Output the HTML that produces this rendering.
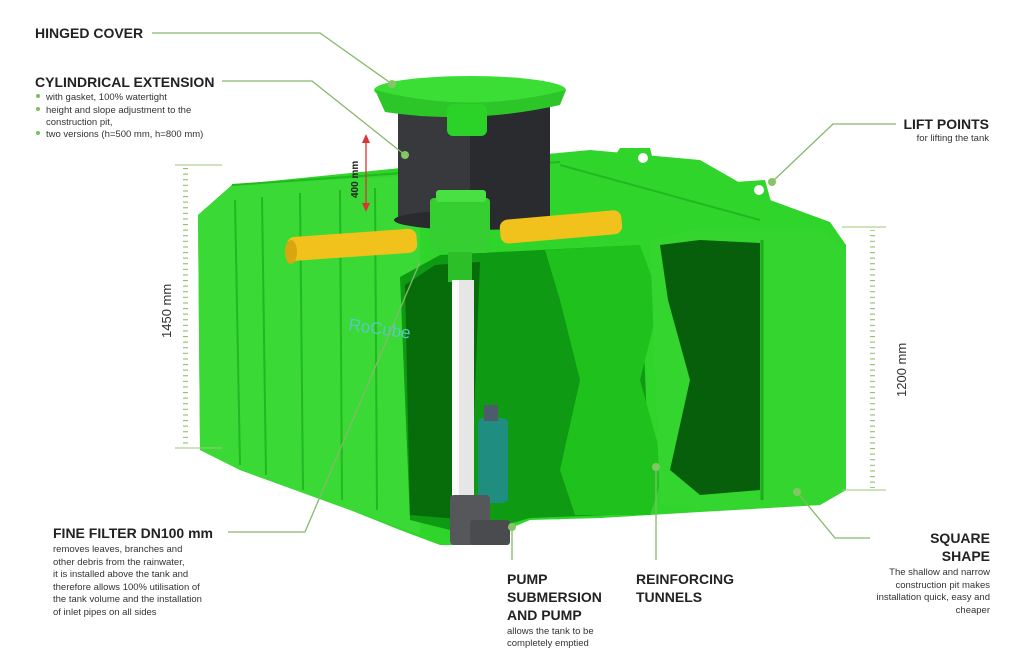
<!DOCTYPE html>
<html><head><meta charset="utf-8"><style>
html,body{margin:0;padding:0;background:#fff;}
svg{display:block}
text{font-family:"Liberation Sans",sans-serif;}
</style></head><body>
<svg width="1024" height="657" viewBox="0 0 1024 657" xmlns="http://www.w3.org/2000/svg">
<defs>
<pattern id="tk" width="4" height="5.6" patternUnits="userSpaceOnUse"><rect x="0" y="0" width="5" height="1.1" fill="#8fbf6c"/></pattern>
</defs>
<!-- main tank body -->
<polygon points="198,215 232,185 430,165 590,150 700,160 770,200 830,222 846,245 846,490 820,505 700,512 600,518 530,520 470,545 440,545 400,530 350,510 240,470 200,450" fill="#2fd52a"/>
<!-- left face lighter -->
<polygon points="198,215 232,185 420,175 420,535 350,510 240,470 200,450" fill="#3ad936"/>
<!-- ribs left -->
<g stroke="#22b820" stroke-width="2" fill="none">
<line x1="235" y1="200" x2="240" y2="465"/><line x1="262" y1="197" x2="266" y2="475"/>
<line x1="300" y1="193" x2="303" y2="490"/><line x1="340" y1="190" x2="342" y2="500"/>
<line x1="375" y1="188" x2="377" y2="510"/>
<line x1="232" y1="185" x2="560" y2="162"/><line x1="560" y1="165" x2="760" y2="220"/>
<line x1="770" y1="230" x2="770" y2="500"/>
</g>
<!-- lift point tabs -->
<path d="M612,160 L620,148 L650,148 L656,172 Z" fill="#2fd52a"/><circle cx="643" cy="158" r="5" fill="#fff"/>
<path d="M725,195 L735,182 L765,180 L772,205 Z" fill="#2fd52a"/><circle cx="759" cy="190" r="5" fill="#fff"/>
<!-- interior cutaway -->
<polygon points="400,277 440,255 640,245 650,500 610,515 530,518 470,535 410,520" fill="#0e9a12"/>
<polygon points="405,285 435,265 480,262 470,520 410,515" fill="#066d0a"/>
<!-- central reinforcing column -->
<path d="M545,250 L640,245 L660,300 L640,380 L665,470 L650,515 L575,515 L560,470 L580,380 L560,300 Z" fill="#1fc21d"/>
<!-- right block -->
<polygon points="650,240 700,228 820,228 846,250 846,490 820,505 760,508 700,510 660,505" fill="#33d52e"/>
<path d="M660,245 L700,240 L760,243 L760,490 L700,495 L670,470 L690,380 L668,300 Z" fill="#075e0b"/>
<line x1="762" y1="240" x2="762" y2="500" stroke="#1eaa1c" stroke-width="3"/>
<!-- RoCube text -->
<text x="348" y="330" font-size="17" fill="#5ac8c0" transform="rotate(8 348 330)">RoCube</text>
<!-- cylinder extension -->
<rect x="398" y="100" width="152" height="120" fill="#38393c"/>
<rect x="470" y="100" width="80" height="120" fill="#2a2b2e"/>
<ellipse cx="474" cy="220" rx="80" ry="10" fill="#2a2b2e"/>
<!-- cover -->
<ellipse cx="470" cy="90" rx="96" ry="14" fill="#3ade34"/>
<path d="M375,90 Q470,115 566,90 L560,105 Q470,125 385,112 Z" fill="#2cc628"/>
<rect x="447" y="104" width="40" height="32" rx="6" fill="#2bd227"/>
<!-- pipes -->
<rect x="287" y="233" width="130" height="24" rx="8" fill="#f2c21c" transform="rotate(-4 350 245)"/>
<ellipse cx="291" cy="252" rx="6" ry="12" fill="#d9a60f"/>
<rect x="500" y="215" width="122" height="24" rx="8" fill="#f2c21c" transform="rotate(-5 560 227)"/>
<!-- filter box -->
<rect x="430" y="198" width="60" height="55" rx="4" fill="#36cf32"/>
<rect x="436" y="190" width="50" height="12" rx="3" fill="#48e043"/>
<rect x="448" y="252" width="24" height="30" fill="#2cbf28"/>
<!-- white pipe -->
<rect x="452" y="280" width="22" height="220" fill="#e6e6e6"/>
<rect x="452" y="280" width="7" height="220" fill="#fafafa"/>
<!-- pump -->
<rect x="478" y="418" width="30" height="85" rx="5" fill="#1f8d7f"/>
<rect x="484" y="405" width="14" height="16" fill="#4e5b6a"/>
<rect x="450" y="495" width="40" height="50" rx="4" fill="#56575b"/>
<rect x="470" y="520" width="40" height="25" rx="3" fill="#4a4b4f"/>
<!-- 400mm arrow -->
<line x1="366" y1="140" x2="366" y2="206" stroke="#d33" stroke-width="1.3"/>
<polygon points="366,134 362,143 370,143" fill="#d33"/>
<polygon points="366,212 362,203 370,203" fill="#d33"/>
<text x="0" y="0" font-size="10" font-weight="bold" fill="#222" transform="translate(358,198) rotate(-90)">400 mm</text>
<!-- scales -->
<line x1="175" y1="165" x2="222" y2="165" stroke="#9cc77a" stroke-width="1"/>
<line x1="175" y1="448" x2="222" y2="448" stroke="#9cc77a" stroke-width="1"/>
<rect x="183" y="168" width="5" height="278" fill="url(#tk)"/>
<text transform="translate(171,338) rotate(-90)" font-size="13" fill="#333">1450 mm</text>
<line x1="842" y1="227" x2="886" y2="227" stroke="#9cc77a" stroke-width="1"/>
<line x1="842" y1="490" x2="886" y2="490" stroke="#9cc77a" stroke-width="1"/>
<rect x="870" y="230" width="5" height="258" fill="url(#tk)"/>
<text transform="translate(906,397) rotate(-90)" font-size="13" fill="#333">1200 mm</text>
<!-- leader lines -->
<g stroke="#86b86a" stroke-width="1.3" fill="none">
<polyline points="152,33 320,33 392,84"/>
<polyline points="222,81 312,81 405,155"/>
<polyline points="896,124 833,124 772,182"/>
<polyline points="228,532 305,532 420,262"/>
<line x1="512" y1="527" x2="512" y2="560"/>
<line x1="656" y1="467" x2="656" y2="560"/>
<polyline points="797,492 835,538 870,538"/>
</g>
<g fill="#86c566">
<circle cx="392" cy="84" r="4"/><circle cx="405" cy="155" r="4"/><circle cx="772" cy="182" r="4"/>
<circle cx="512" cy="527" r="4"/><circle cx="656" cy="467" r="4"/><circle cx="797" cy="492" r="4"/>
</g>
<!-- labels -->
<text x="35" y="38" font-size="14" font-weight="bold" fill="#222">HINGED COVER</text>
<text x="35" y="87" font-size="14" font-weight="bold" fill="#222">CYLINDRICAL EXTENSION</text>
<g font-size="9.5" fill="#333">
<text x="46" y="100">with gasket, 100% watertight</text>
<text x="46" y="113">height and slope adjustment to the</text>
<text x="46" y="125">construction pit,</text>
<text x="46" y="137">two versions (h=500 mm, h=800 mm)</text>
</g>
<g fill="#7cc05a"><circle cx="38" cy="96" r="2"/><circle cx="38" cy="109" r="2"/><circle cx="38" cy="133" r="2"/></g>
<text x="989" y="129" font-size="14" font-weight="bold" fill="#222" text-anchor="end">LIFT POINTS</text>
<text x="989" y="141" font-size="9.5" fill="#333" text-anchor="end">for lifting the tank</text>
<text x="53" y="538" font-size="14" font-weight="bold" fill="#222">FINE FILTER DN100 mm</text>
<g font-size="9.5" fill="#333">
<text x="53" y="552">removes leaves, branches and</text>
<text x="53" y="565">other debris from the rainwater,</text>
<text x="53" y="577">it is installed above the tank and</text>
<text x="53" y="590">therefore allows 100% utilisation of</text>
<text x="53" y="602">the tank volume and the installation</text>
<text x="53" y="615">of inlet pipes on all sides</text>
</g>
<g font-size="14" font-weight="bold" fill="#222">
<text x="507" y="584">PUMP</text><text x="507" y="602">SUBMERSION</text><text x="507" y="620">AND PUMP</text>
<text x="636" y="584">REINFORCING</text><text x="636" y="602">TUNNELS</text>
<text x="990" y="543" text-anchor="end">SQUARE</text><text x="990" y="561" text-anchor="end">SHAPE</text>
</g>
<g font-size="9.5" fill="#333">
<text x="507" y="634">allows the tank to be</text><text x="507" y="646">completely emptied</text>
<g text-anchor="end"><text x="990" y="575">The shallow and narrow</text><text x="990" y="588">construction pit makes</text><text x="990" y="600">installation quick, easy and</text><text x="990" y="613">cheaper</text></g>
</g>
</svg>
</body></html>
